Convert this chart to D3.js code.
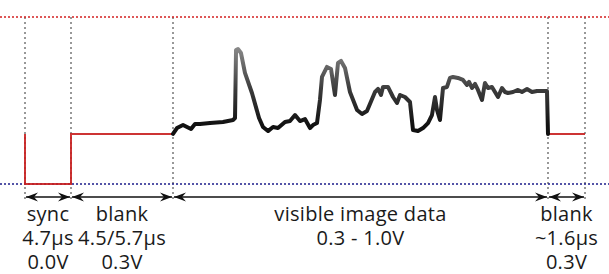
<!DOCTYPE html>
<html>
<head>
<meta charset="utf-8">
<script src="https://cdn.jsdelivr.net/npm/d3@7"></script>
<style>
	body { margin: 0; background: #fff; }
	#graphic text { font-family: "Open Sans", "Noto Sans", sans-serif; font-size: 20px; letter-spacing: 0.3px; fill: #1a1a1a; }
</style>
</head>
<body>
<div id="graphic"></div>
<script>
// one TV line, time in microseconds, level in volts
var boundaries = [0, 4.7, 10.4, 62.4, 64];
var refLevels = [0, 1.0];
var refColours = ["#1c1c8a", "#d42020"];

var blankTimes = [[0, 0, 4.7, 4.7, 10.4], [62.4, 64]];
var blankVolts = [[0.3, 0, 0, 0.3, 0.3], [0.3, 0.3]];

var lineTimes = [10.4, 10.95, 11.79, 12.34, 12.9, 13.45, 14.14, 15.53, 17.33, 18.72, 19.0, 19.14, 19.41, 19.83,
	20.38, 21.35, 22.33, 22.88, 23.57, 24.27, 24.96, 25.93, 26.62, 27.32, 28.01, 28.7, 29.4, 29.81, 30.37,
	30.78, 31.06, 31.75, 32.31, 32.86, 33.28, 33.7, 34.25, 34.94, 35.92, 36.61, 37.3, 38.41, 38.83, 39.24,
	39.52, 40.21, 40.91, 41.46, 41.88, 42.57, 43.26, 43.68, 44.37, 45.07, 45.76, 46.31, 46.73, 47.01, 47.42,
	47.84, 48.39, 48.81, 49.23, 49.92, 50.61, 51.17, 51.45, 51.86, 52.28, 52.69, 53.25, 53.66, 54.08, 54.63,
	55.05, 55.47, 56.02, 56.44, 56.85, 57.55, 58.24, 58.79, 59.49, 60.18, 60.87, 61.98, 62.26, 62.4];
var lineVolts = [0.3, 0.335, 0.353, 0.341, 0.329, 0.359, 0.359, 0.365, 0.371, 0.383, 0.395, 0.802, 0.808, 0.784,
	0.665, 0.545, 0.395, 0.341, 0.317, 0.341, 0.335, 0.371, 0.377, 0.413, 0.377, 0.389, 0.335, 0.353, 0.365,
	0.503, 0.641, 0.701, 0.689, 0.533, 0.725, 0.737, 0.695, 0.551, 0.443, 0.419, 0.437, 0.551, 0.569, 0.533,
	0.581, 0.581, 0.521, 0.485, 0.533, 0.521, 0.491, 0.323, 0.317, 0.335, 0.365, 0.413, 0.521, 0.443, 0.383,
	0.575, 0.581, 0.635, 0.641, 0.635, 0.623, 0.593, 0.611, 0.575, 0.599, 0.563, 0.503, 0.605, 0.575, 0.581,
	0.551, 0.521, 0.575, 0.551, 0.545, 0.551, 0.563, 0.551, 0.569, 0.551, 0.557, 0.557, 0.557, 0.3];

var segNames = ["sync", "blank", "visible image data", "blank"];
var segTimes = ["4.7μs", "4.5/5.7μs", "", "~1.6μs"];
var segLevels = ["0.0V", "0.3V", "0.3 - 1.0V", "0.3V"];

var width = 609, height = 274;

var svg = d3.select("#graphic").append("svg")
	.attr("width", width)
	.attr("height", height);

// not to scale: each part gets its own stretch of the page
var x = d3.scaleLinear().domain(boundaries).range([25, 71, 173, 548, 585]);
var y = d3.scaleLinear().domain([0, 1]).range([184, 17]);

var defs = svg.append("defs");
var grad = defs.append("linearGradient")
	.attr("id", "sigGrad")
	.attr("gradientUnits", "userSpaceOnUse")
	.attr("x1", 0).attr("x2", 0)
	.attr("y1", y(0.35)).attr("y2", y(0.82));
grad.append("stop").attr("offset", 0).attr("stop-color", "#111");
grad.append("stop").attr("offset", 0.45).attr("stop-color", "#3a3a3a");
grad.append("stop").attr("offset", 1).attr("stop-color", "#8a8a8a");

defs.append("marker")
	.attr("id", "arrow")
	.attr("viewBox", "-12 -5 12 10")
	.attr("refX", 0).attr("refY", 0)
	.attr("markerWidth", 12).attr("markerHeight", 10)
	.attr("markerUnits", "userSpaceOnUse")
	.attr("orient", "auto-start-reverse")
	.append("path")
	.attr("d", "M0,0 L-12,-4.5 L-8,0 L-12,4.5 Z")
	.attr("fill", "#111");

// vertical dividers
svg.selectAll(".divider")
	.data(boundaries)
	.enter()
	.append("line")
	.attr("class", "divider")
	.attr("x1", function(d) { return x(d); })
	.attr("x2", function(d) { return x(d); })
	.attr("y1", y(1))
	.attr("y2", 199)
	.attr("stroke", "#777")
	.attr("stroke-width", 1.5)
	.attr("stroke-dasharray", "2,3");

// 0V and 1V reference lines
svg.selectAll(".ref")
	.data(refLevels)
	.enter()
	.append("line")
	.attr("class", "ref")
	.attr("x1", 0)
	.attr("x2", width)
	.attr("y1", function(d) { return y(d); })
	.attr("y2", function(d) { return y(d); })
	.attr("stroke", function(d, i) { return refColours[i]; })
	.attr("stroke-width", 1.5)
	.attr("stroke-dasharray", "2,2");

var line = d3.line()
	.x(function(d) { return x(d[0]); })
	.y(function(d) { return y(d[1]); });

// blanking / sync parts
blankTimes.forEach(function(ts, k) {
	svg.append("path")
		.attr("d", line(ts.map(function(t, i) { return [t, blankVolts[k][i]]; })))
		.attr("fill", "none")
		.attr("stroke", "#c81e1e")
		.attr("stroke-opacity", 0.9)
		.attr("stroke-width", 2);
});

// picture content
svg.append("path")
	.attr("d", line(lineTimes.map(function(t, i) { return [t, lineVolts[i]]; })))
	.attr("fill", "none")
	.attr("stroke", "url(#sigGrad)")
	.attr("stroke-width", 4)
	.attr("stroke-linejoin", "round")
	.attr("stroke-linecap", "round");

// duration arrows
var segs = d3.range(boundaries.length - 1);
svg.selectAll(".span")
	.data(segs)
	.enter()
	.append("line")
	.attr("class", "span")
	.attr("x1", function(i) { return x(boundaries[i]) + 1; })
	.attr("x2", function(i) { return x(boundaries[i + 1]) - 1; })
	.attr("y1", 197)
	.attr("y2", 197)
	.attr("stroke", "#111")
	.attr("stroke-width", 1.5)
	.attr("marker-start", "url(#arrow)")
	.attr("marker-end", "url(#arrow)");

var labels = svg.selectAll(".seglabel")
	.data(segs)
	.enter()
	.append("text")
	.attr("class", "seglabel")
	.attr("text-anchor", "middle")
	.attr("transform", function(i) {
		return "translate(" + (x(boundaries[i]) + x(boundaries[i + 1])) / 2 + ",221)";
	});

labels.each(function(i) {
	var rows = [segNames[i], segTimes[i], segLevels[i]].filter(function(s) { return s != ""; });
	d3.select(this).selectAll("tspan")
		.data(rows)
		.enter()
		.append("tspan")
		.attr("x", 0)
		.attr("y", function(d, j) { return j * 24; })
		.text(function(d) { return d; });
});
</script>
</body>
</html>
